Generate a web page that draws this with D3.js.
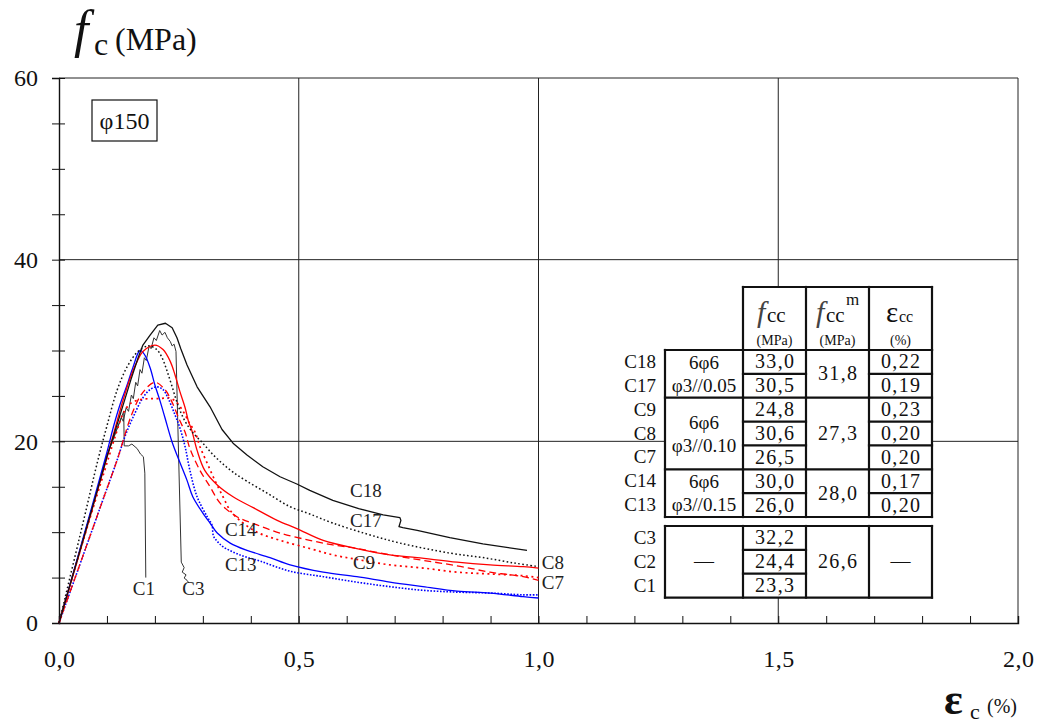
<!DOCTYPE html>
<html><head><meta charset="utf-8">
<script src="https://cdn.jsdelivr.net/npm/d3@7"></script>
<style>
html,body{margin:0;padding:0;background:#fff;}
</style></head>
<body><svg id="c" width="1046" height="723" style="font-family:'Liberation Serif',serif"></svg>
<script>
// ---------- data: stress-strain curves [strain %, stress MPa] ----------
const c18 = [[0,0],[0.05,9.1],[0.1,18.3],[0.125,22.5],[0.15,26.8],[0.165,29.2],[0.175,30.6],[0.19,31.7],[0.206,32.8],[0.222,33.0],[0.236,32.5],[0.246,31.4],[0.254,30.2],[0.267,28.4],[0.288,26.0],[0.315,23.8],[0.34,21.3],[0.363,19.8],[0.392,18.5],[0.425,17.2],[0.461,16.1],[0.496,15.3],[0.523,14.6],[0.571,13.5],[0.625,12.6],[0.676,11.9],[0.711,11.6],[0.713,11.3],[0.709,10.6],[0.717,10.5],[0.747,10.2],[0.815,9.4],[0.884,8.7],[0.976,8.0]];
const c17 = [[0,0],[0.05,11.0],[0.081,17.9],[0.1,21.7],[0.121,25.6],[0.142,28.2],[0.163,29.8],[0.184,30.5],[0.19,30.5],[0.204,30.1],[0.215,29.2],[0.225,27.8],[0.236,26.0],[0.248,24.0],[0.262,22.3],[0.28,20.9],[0.3,19.8],[0.32,18.6],[0.342,17.5],[0.363,16.6],[0.392,15.6],[0.434,14.3],[0.482,12.8],[0.523,12.0],[0.571,11.0],[0.642,9.8],[0.711,8.8],[0.815,7.7],[0.884,7.2],[0.95,6.6],[1.0,6.2]];
const c9  = [[0,0],[0.05,9.0],[0.1,17.6],[0.12,21.0],[0.135,23.2],[0.15,24.2],[0.17,24.6],[0.19,24.7],[0.21,24.7],[0.23,24.8],[0.245,24.3],[0.26,23.2],[0.272,22.0],[0.284,21.0],[0.294,19.4],[0.309,17.6],[0.325,15.7],[0.342,13.9],[0.357,12.4],[0.377,11.3],[0.413,10.0],[0.461,9.1],[0.523,8.2],[0.571,7.5],[0.621,7.0],[0.69,6.4],[0.759,6.05],[0.83,5.6],[0.899,5.4],[0.968,5.2],[1.0,5.0]];
const c8  = [[0,0],[0.05,9.0],[0.1,18.2],[0.121,22.2],[0.134,24.6],[0.148,26.9],[0.163,28.8],[0.175,29.9],[0.2,30.6],[0.217,30.1],[0.232,28.8],[0.242,27.3],[0.252,25.5],[0.263,23.7],[0.27,22.2],[0.277,21.2],[0.288,19.0],[0.304,16.8],[0.33,15.2],[0.363,13.9],[0.405,12.7],[0.455,11.3],[0.496,10.4],[0.551,9.1],[0.621,8.2],[0.69,7.5],[0.747,7.2],[0.83,6.7],[0.899,6.4],[0.968,6.2],[1.0,6.05]];
const c7  = [[0,0],[0.05,7.4],[0.1,14.8],[0.121,17.9],[0.152,23.0],[0.175,25.4],[0.2,26.5],[0.221,25.7],[0.235,24.4],[0.25,22.5],[0.263,21.0],[0.273,19.2],[0.294,16.8],[0.315,15.0],[0.336,13.2],[0.371,11.7],[0.413,10.8],[0.461,9.9],[0.523,9.1],[0.571,8.6],[0.621,8.2],[0.69,7.5],[0.759,6.9],[0.83,6.3],[0.899,5.6],[0.968,5.1],[1.0,4.7]];
const c14 = [[0,0],[0.05,9.3],[0.1,18.8],[0.113,21.5],[0.127,24.0],[0.142,26.2],[0.154,28.1],[0.169,30.0],[0.179,29.5],[0.19,28.1],[0.2,26.2],[0.211,24.4],[0.221,22.6],[0.236,19.9],[0.252,17.7],[0.267,15.7],[0.279,13.9],[0.3,12.1],[0.315,11.0],[0.33,9.9],[0.357,8.8],[0.392,8.0],[0.44,7.2],[0.482,6.4],[0.551,5.6],[0.621,5.1],[0.69,4.5],[0.759,4.0],[0.83,3.5],[0.899,3.3],[0.968,2.9],[1.0,2.75]];
const c13 = [[0,0],[0.05,7.4],[0.1,14.8],[0.121,17.9],[0.138,20.6],[0.154,22.6],[0.175,24.8],[0.19,25.7],[0.204,26.0],[0.217,25.7],[0.227,24.8],[0.242,22.9],[0.252,21.5],[0.263,19.4],[0.273,16.8],[0.288,13.9],[0.309,11.7],[0.319,10.8],[0.322,9.6],[0.33,9.0],[0.342,8.4],[0.377,7.5],[0.42,6.8],[0.482,5.7],[0.551,5.1],[0.621,4.5],[0.69,4.0],[0.759,3.6],[0.83,3.4],[0.899,3.3],[0.968,3.1],[1.0,3.1]];
const c3  = [[0,0],[0.05,9.2],[0.1,18.4],[0.12,21.3],[0.13,22.6],[0.134,22.2],[0.14,23.7],[0.145,23.3],[0.151,25.1],[0.155,24.7],[0.16,26.5],[0.164,26.1],[0.169,27.9],[0.173,27.5],[0.178,29.2],[0.182,28.9],[0.188,30.5],[0.192,30.2],[0.198,31.4],[0.203,31.1],[0.21,32.2],[0.215,31.7],[0.221,32.0],[0.226,31.4],[0.232,31.0],[0.236,30.5],[0.24,30.7],[0.244,29.9],[0.255,6.7],[0.261,6.1],[0.257,5.6],[0.265,5.3],[0.261,4.95],[0.267,4.7],[0.271,4.4]];
const c1  = [[0,0],[0.05,9.2],[0.1,18.4],[0.125,21.9],[0.135,23.3],[0.136,19.5],[0.145,19.5],[0.152,19.7],[0.163,19.2],[0.17,18.6],[0.176,18.3],[0.179,16.5],[0.181,5.0]];

// curve labels [name, strain, stress]
const curveLabels = [["C18",0.607,13.9],["C17",0.607,10.6],["C14",0.346,9.6],["C13",0.346,5.7],["C9",0.613,6.0],["C8",1.007,5.9],["C7",1.007,3.7],["C3",0.257,3.1],["C1",0.154,3.1]];

// axis ticks
const xMajor = [0,0.5,1.0,1.5,2.0];
const xMinor = d3.range(0,2.0001,0.1);
const yMajor = [0,20,40,60];
const yMinor = d3.range(0,60.001,5);

// table data
const specimens = ["C18","C17","C9","C8","C7","C14","C13"];
const fccVals   = ["33,0","30,5","24,8","30,6","26,5","30,0","26,0"];
const eccVals   = ["0,22","0,19","0,23","0,20","0,20","0,17","0,20"];
const groupRows = [2,3,2];
const groupBars = [["6φ6","φ3//0.05"],["6φ6","φ3//0.10"],["6φ6","φ3//0.15"]];
const groupMean = ["31,8","27,3","28,0"];
const plainSpecimens = ["C3","C2","C1"];
const plainFcc  = ["32,2","24,4","23,3"];
const plainMean = "26,6";

// ---------- drawing ----------
const FONT = "'Liberation Serif', 'Times New Roman', Times, 'DejaVu Serif', serif";
const svg = d3.select("#c");
const x = d3.scaleLinear([0,2],[59,1018]);
const y = d3.scaleLinear([0,60],[623,78]);

// grid
const grid = svg.append("g").attr("stroke","#222").attr("stroke-width",1);
xMajor.filter(v=>v>0).forEach(v=>grid.append("line").attr("x1",x(v)).attr("x2",x(v)).attr("y1",y(0)).attr("y2",y(60)));
yMajor.filter(v=>v>0).forEach(v=>grid.append("line").attr("x1",x(0)).attr("x2",x(2)).attr("y1",y(v)).attr("y2",y(v)));

// x axis
const gx = svg.append("g").attr("transform",`translate(0,${y(0)})`)
  .call(d3.axisBottom(x).tickValues(xMinor).tickSize(-7).tickFormat(""));
gx.select(".domain").attr("stroke","#111").attr("stroke-width",1.4);
gx.selectAll(".tick line").attr("stroke","#111");
const gxl = svg.append("g").attr("transform",`translate(0,${y(0)})`)
  .call(d3.axisBottom(x).tickValues(xMajor).tickSize(0).tickPadding(27).tickFormat(d=>d3.format(".1f")(d).replace(".",",")));
gxl.select(".domain").remove();
gxl.selectAll("text").attr("font-size",24).attr("fill","#111").attr("textLength",31).attr("lengthAdjust","spacing");

// y axis
const gy = svg.append("g").attr("transform",`translate(${x(0)},0)`)
  .call(d3.axisLeft(y).tickValues(yMinor).tickSize(7).tickFormat(""));
gy.select(".domain").attr("stroke","#111").attr("stroke-width",1.4);
gy.selectAll(".tick line").attr("stroke","#111").attr("x1",6);
const gyl = svg.append("g").attr("transform",`translate(${x(0)},0)`)
  .call(d3.axisLeft(y).tickValues(yMajor).tickSize(0).tickPadding(21).tickFormat(d3.format("d")));
gyl.select(".domain").remove();
gyl.selectAll("text").attr("font-size",24).attr("fill","#111");

// axis titles
const yt = svg.append("g");
yt.append("text").attr("x",74).attr("y",47).attr("font-size",52).attr("font-style","italic").text("f");
yt.append("text").attr("x",94).attr("y",55).attr("font-size",32).text("c");
yt.append("text").attr("x",115).attr("y",50).attr("font-size",32).text("(MPa)");
const xt = svg.append("g");
xt.append("text").attr("x",944).attr("y",714).attr("font-size",44).attr("font-weight","bold").text("ε");
xt.append("text").attr("x",970).attr("y",719).attr("font-size",22).text("c");
xt.append("text").attr("x",987).attr("y",713).attr("font-size",20).text("(%)");

// phi150 box
svg.append("rect").attr("x",92).attr("y",100).attr("width",65).attr("height",41).attr("fill","#fff").attr("stroke","#111").attr("stroke-width",1.2);
svg.append("text").attr("x",124.5).attr("y",129).attr("text-anchor","middle").attr("font-size",24).text("φ150");

// curves
const lineLin = d3.line().x(d=>x(d[0])).y(d=>y(d[1]));
const lineSm = d3.line().x(d=>x(d[0])).y(d=>y(d[1])).curve(d3.curveCatmullRom.alpha(0.5));
const series = [
  {d:c1, col:"#333", w:1.0, dash:null, lin:true},
  {d:c3, col:"#333", w:1.0, dash:null, lin:true},
  {d:c13,col:"#0000ff", w:1.6, dash:"1.6,1.6"},
  {d:c14,col:"#0000ff", w:1.3, dash:null},
  {d:c7, col:"#ff0000", w:1.3, dash:"7,4"},
  {d:c9, col:"#ff0000", w:1.7, dash:"2,3.5"},
  {d:c8, col:"#ff0000", w:1.3, dash:null},
  {d:c17,col:"#111", w:1.5, dash:"1.6,2.4"},
  {d:c18,col:"#111", w:1.3, dash:null, lin:true}
];
svg.append("g").selectAll("path").data(series).join("path")
  .attr("d",s=>(s.lin?lineLin:lineSm)(s.d))
  .attr("fill","none").attr("stroke",s=>s.col).attr("stroke-width",s=>s.w)
  .attr("stroke-dasharray",s=>s.dash).attr("stroke-linejoin","round");

svg.append("g").selectAll("text").data(curveLabels).join("text")
  .attr("x",d=>x(d[1])).attr("y",d=>y(d[2])).attr("font-size",19).attr("fill","#222").text(d=>d[0]);

// ---------- table ----------
const T = svg.append("g");
const cx = [665,743,806,869,932];
const rowH = 23.86, top1 = 350, top2 = 526, hdrTop = 287;
const lw = 2.2;
function L(x1,y1,x2,y2){T.append("line").attr("x1",x1).attr("y1",y1).attr("x2",x2).attr("y2",y2).attr("stroke","#111").attr("stroke-width",lw).attr("stroke-linecap","square");}
T.append("rect").attr("x",cx[1]).attr("y",hdrTop).attr("width",cx[4]-cx[1]).attr("height",top1-hdrTop).attr("fill","#fff");
T.append("rect").attr("x",cx[0]).attr("y",top1).attr("width",cx[4]-cx[0]).attr("height",rowH*7).attr("fill","#fff");
T.append("rect").attr("x",cx[0]-2).attr("y",top1+rowH*7).attr("width",cx[4]-cx[0]+4).attr("height",top2-top1-rowH*7).attr("fill","#fff");
T.append("rect").attr("x",cx[0]).attr("y",top2).attr("width",cx[4]-cx[0]).attr("height",rowH*3).attr("fill","#fff");
L(cx[1],hdrTop,cx[4],hdrTop);
[1,2,3,4].forEach(i=>L(cx[i],hdrTop,cx[i],top1));
T.append("text").attr("x",757).attr("y",322).attr("font-size",30).attr("font-style","italic").attr("fill","#444").text("f");
T.append("text").attr("x",767).attr("y",322).attr("font-size",21).text("cc");
T.append("text").attr("x",(cx[1]+cx[2])/2).attr("y",345).attr("text-anchor","middle").attr("font-size",14).text("(MPa)");
T.append("text").attr("x",816).attr("y",322).attr("font-size",30).attr("font-style","italic").attr("fill","#444").text("f");
T.append("text").attr("x",826).attr("y",322).attr("font-size",21).text("cc");
T.append("text").attr("x",846).attr("y",305).attr("font-size",17).text("m");
T.append("text").attr("x",(cx[2]+cx[3])/2).attr("y",345).attr("text-anchor","middle").attr("font-size",14).text("(MPa)");
T.append("text").attr("x",886).attr("y",322).attr("font-size",29).text("ε");
T.append("text").attr("x",899).attr("y",322).attr("font-size",16).text("cc");
T.append("text").attr("x",(cx[3]+cx[4])/2).attr("y",345).attr("text-anchor","middle").attr("font-size",14).text("(%)");

const b1Bottom = top1+rowH*7;
L(cx[0],top1,cx[4],top1); L(cx[0],b1Bottom,cx[4],b1Bottom);
[0,1,2,3,4].forEach(i=>L(cx[i],top1,cx[i],b1Bottom));
specimens.forEach((s,i)=>{
  const yc = top1+rowH*(i+0.5);
  T.append("text").attr("x",656).attr("y",yc+6).attr("text-anchor","end").attr("font-size",19).text(s);
  T.append("text").attr("x",(cx[1]+cx[2])/2).attr("y",yc+6.5).attr("text-anchor","middle").attr("font-size",20).attr("textLength",39).text(fccVals[i]);
  T.append("text").attr("x",(cx[3]+cx[4])/2).attr("y",yc+6.5).attr("text-anchor","middle").attr("font-size",20).attr("textLength",39).text(eccVals[i]);
  if(i<specimens.length-1){ L(cx[1],top1+rowH*(i+1),cx[2],top1+rowH*(i+1)); L(cx[3],top1+rowH*(i+1),cx[4],top1+rowH*(i+1)); }
});
let r0=0;
groupRows.forEach((n,gi)=>{
  const gTop = top1+rowH*r0, gBot = top1+rowH*(r0+n), mid=(gTop+gBot)/2;
  if(gi>0){ L(cx[0],gTop,cx[1],gTop); L(cx[2],gTop,cx[3],gTop); }
  T.append("text").attr("x",(cx[0]+cx[1])/2).attr("y",mid-5).attr("text-anchor","middle").attr("font-size",19).text(groupBars[gi][0]);
  T.append("text").attr("x",(cx[0]+cx[1])/2).attr("y",mid+18).attr("text-anchor","middle").attr("font-size",19).text(groupBars[gi][1]);
  T.append("text").attr("x",(cx[2]+cx[3])/2).attr("y",mid+6.5).attr("text-anchor","middle").attr("font-size",20).attr("textLength",39).text(groupMean[gi]);
  r0+=n;
});
const b2Bottom = top2+rowH*3;
L(cx[0],top2,cx[4],top2); L(cx[0],b2Bottom,cx[4],b2Bottom);
[0,1,2,3,4].forEach(i=>L(cx[i],top2,cx[i],b2Bottom));
plainSpecimens.forEach((s,i)=>{
  const yc = top2+rowH*(i+0.5);
  T.append("text").attr("x",656).attr("y",yc+6).attr("text-anchor","end").attr("font-size",19).text(s);
  T.append("text").attr("x",(cx[1]+cx[2])/2).attr("y",yc+6.5).attr("text-anchor","middle").attr("font-size",20).attr("textLength",39).text(plainFcc[i]);
  if(i<2) L(cx[1],top2+rowH*(i+1),cx[2],top2+rowH*(i+1));
});
const m2=(top2+b2Bottom)/2;
T.append("text").attr("x",(cx[2]+cx[3])/2).attr("y",m2+6.5).attr("text-anchor","middle").attr("font-size",20).attr("textLength",39).text(plainMean);
T.append("text").attr("x",(cx[0]+cx[1])/2).attr("y",m2+6).attr("text-anchor","middle").attr("font-size",20).text("—");
T.append("text").attr("x",(cx[3]+cx[4])/2).attr("y",m2+6).attr("text-anchor","middle").attr("font-size",20).text("—");

svg.selectAll("g").attr("font-family",null);
svg.selectAll("text").style("font-family",FONT).style("fill",function(){return this.getAttribute("fill")||"#111";});
</script></body></html>
